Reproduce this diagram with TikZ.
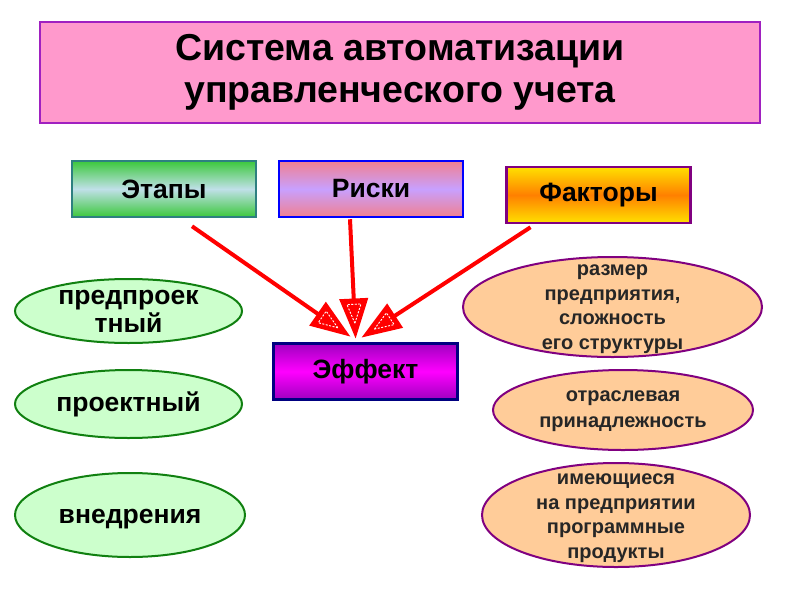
\documentclass[tikz,border=0pt]{standalone}
\usepackage{fontspec}
\setmainfont{Liberation Sans}
\usetikzlibrary{arrows.meta,calc,shapes.geometric}
\definecolor{titlefill}{HTML}{FF99CC}
\definecolor{titleline}{HTML}{A020C0}
\definecolor{gEdge}{HTML}{3CC83C}
\definecolor{gMid}{HTML}{C0E0E8}
\definecolor{gLine}{HTML}{2E8080}
\definecolor{rEdge}{HTML}{F08090}
\definecolor{rMid}{HTML}{C8A0FF}
\definecolor{fEdge}{HTML}{FFE000}
\definecolor{fMid}{HTML}{FF8000}
\definecolor{eEdge}{HTML}{A000C0}
\definecolor{eMid}{HTML}{FF00FF}
\definecolor{lFill}{HTML}{CCFFCC}
\definecolor{lLine}{HTML}{108010}
\definecolor{oFill}{HTML}{FFCC99}
\definecolor{oLine}{HTML}{800080}
\newcommand\fatarrow[2]{%
  \coordinate (fa-b) at ($(#2)!37pt!(#1)$);
  \coordinate (fa-l) at ($(fa-b)!13.5pt!90:(#2)$);
  \coordinate (fa-r) at ($(fa-b)!13.5pt!-90:(#2)$);
  \coordinate (fa-ib) at ($(#2)!32pt!(#1)$);
  \coordinate (fa-it) at ($(#2)!13pt!(#1)$);
  \coordinate (fa-il) at ($(fa-ib)!7pt!90:(#2)$);
  \coordinate (fa-ir) at ($(fa-ib)!7pt!-90:(#2)$);
  \draw[red,line width=4pt] (#1) -- (fa-b);
  \filldraw[red,line width=1.5pt,line join=miter] (#2) -- (fa-l) -- (fa-r) -- cycle;
  \draw[white,line width=0.9pt,dash pattern=on 2pt off 1.5pt] (fa-it) -- (fa-il) -- (fa-ir) -- cycle;
}
\tikzset{
  box/.style={draw,line width=2.5pt,minimum width=184pt,minimum height=56pt,inner sep=0pt,
    font=\bfseries\fontsize{26.5}{30}\selectfont},
  ellL/.style={ellipse,draw=lLine,fill=lFill,line width=2pt,inner sep=0pt},
  ellR/.style={ellipse,draw=oLine,fill=oFill,line width=2pt,inner sep=0pt},
  txtL/.style={align=center,font=\bfseries\fontsize{26.5}{28}\selectfont},
  txtR/.style={align=center,text=black!85,font=\bfseries\fontsize{20}{24.5}\selectfont},
}
\begin{document}
\begin{tikzpicture}[x=1pt,y=-1pt]
\useasboundingbox (0,0) rectangle (800,600);
\fill[white] (0,0) rectangle (800,600);
\node[draw=titleline,fill=titlefill,line width=2.5pt,minimum width=720pt,minimum height=101pt,inner sep=0pt,
  align=center,font=\bfseries\fontsize{37.5}{42}\selectfont] (title) at (400,72.5)
  {Система автоматизации\\управленческого учета};
\node[box,draw=gLine,top color=gEdge,bottom color=gEdge,middle color=gMid] (etapy) at (164,189) {Этапы};
\node[box,draw=blue,top color=rEdge,bottom color=rEdge,middle color=rMid] (riski) at (371,189) {Риски};
\node[box,draw=oLine,top color=fEdge,bottom color=fEdge,middle color=fMid] (faktory) at (598.5,195) {Факторы};
\node[box,draw=blue!50!black,top color=eEdge,bottom color=eEdge,middle color=eMid] (effekt) at (365.5,371.5) {Эффект};

\node[ellL,minimum width=227pt,minimum height=64pt] (s1) at (128.5,311) {};
\node[txtL] at (s1) {предпроек\\тный};
\node[ellL,minimum width=227pt,minimum height=68pt] (s2) at (128.5,404) {};
\node[txtL] at (s2) {проектный};
\node[ellL,minimum width=230pt,minimum height=84pt] (s3) at (130,515) {};
\node[txtL] at ($(s3)+(0,4)$) {внедрения};

\node[ellR,minimum width=299pt,minimum height=100pt] (f1) at (612.5,307) {};
\node[txtR] at ($(f1)+(0,2)$) {размер\\предприятия,\\сложность\\его структуры};
\node[ellR,minimum width=260pt,minimum height=80pt] (f2) at (623,410) {};
\node[txtR,font=\bfseries\fontsize{20}{26}\selectfont] at ($(f2)+(0,1)$) {отраслевая\\принадлежность};
\node[ellR,minimum width=268pt,minimum height=104pt] (f3) at (616,515) {};
\node[txtR] at ($(f3)+(0,3)$) {имеющиеся\\на предприятии\\программные\\продукты};

\coordinate (a1s) at ($(etapy.south)+(28,8)$);
\coordinate (a1t) at ($(effekt.north)+(-17,-7)$);
\coordinate (a2s) at ($(riski.south)+(-21,1)$);
\coordinate (a2t) at ($(effekt.north)+(-10,-6)$);
\coordinate (a3s) at ($(faktory.south)+(-68,3)$);
\coordinate (a3t) at ($(effekt.north)+(-2,-6)$);
\fatarrow{a1s}{a1t}
\fatarrow{a2s}{a2t}
\fatarrow{a3s}{a3t}
\end{tikzpicture}
\end{document}
